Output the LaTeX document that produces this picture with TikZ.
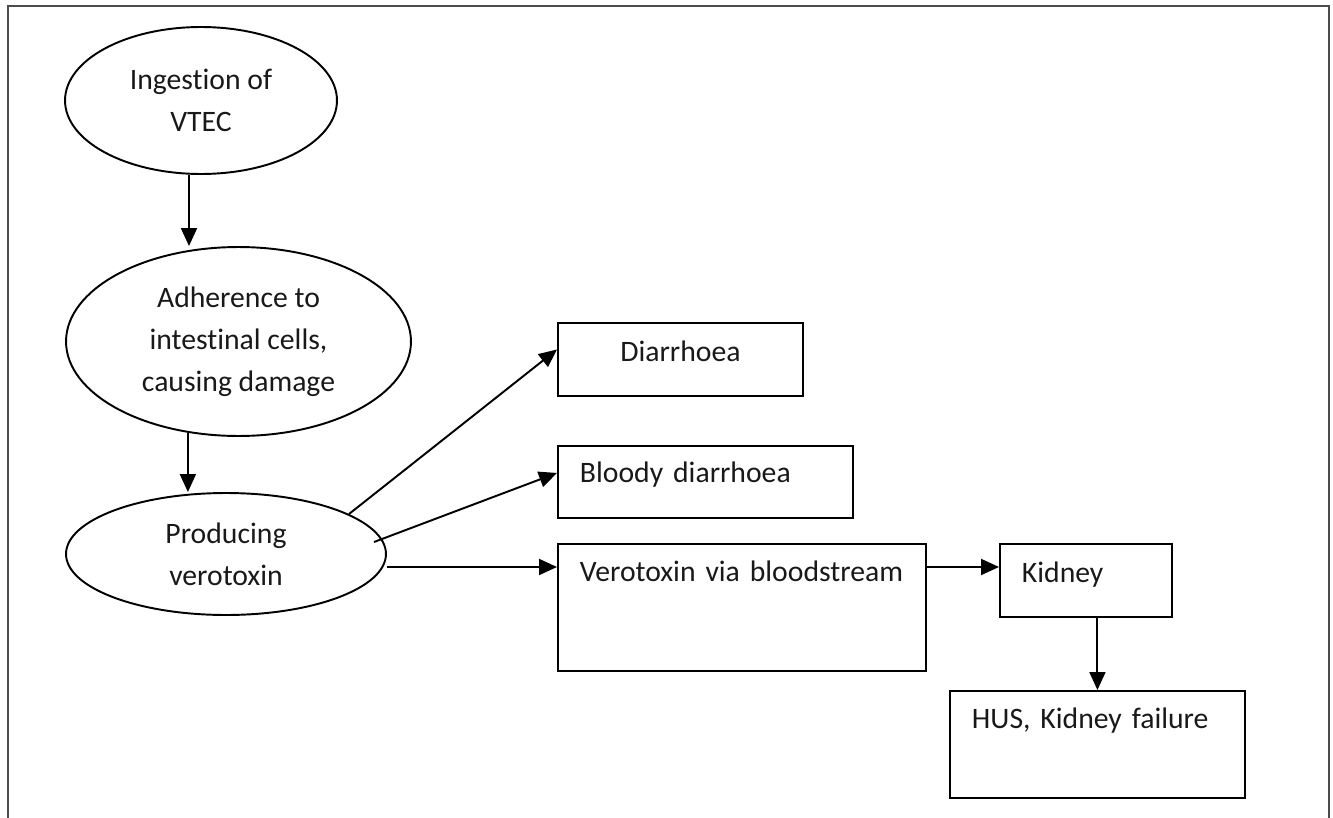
\documentclass[tikz,border=0pt]{standalone}
\usepackage{fontspec}
\setmainfont{Carlito}[Ligatures=NoCommon]
\usetikzlibrary{shapes.geometric,arrows.meta,calc}
\tikzset{
  every node/.style={font=\fontsize{16.9}{23.9}\selectfont, text=black!90},
  stage/.style={draw, ellipse, line width=1.1pt, inner sep=0pt, align=center},
  outcome/.style={draw, rectangle, line width=1.1pt, anchor=north west,
    inner ysep=0pt, inner xsep=0.44cm, align=left},
  arr/.style={-{Triangle[length=0.36cm,width=0.32cm]}, line width=1.1pt},
}

\begin{document}
\begin{tikzpicture}[x=0.02cm,y=-0.02cm]
\useasboundingbox (0,0) rectangle (1333,818);
\draw[line width=1.1pt, black!70] (8,818) -- (8,6) -- (1329,6) -- (1329,818);

\node[stage, minimum width=5.44cm, minimum height=2.94cm] (ingest) at (201,100.5) {Ingestion of\\VTEC};
\node[stage, minimum width=6.9cm, minimum height=3.78cm] (adhere) at (238.5,341.5) {Adherence to\\intestinal cells,\\causing damage};
\node[stage, minimum width=6.4cm, minimum height=2.44cm] (toxin) at (226,554) {Producing\\verotoxin};

\node[outcome, text width=4.02cm, align=center, text height=0.78cm, text depth=0.68cm] (diar) at (557,322) {Diarrhoea};
\node[outcome, text width=5.02cm, text height=0.74cm, text depth=0.70cm] (bloody) at (557,445) {Bloody diarrhoea};
\node[outcome, text width=6.48cm, text height=0.76cm, text depth=1.78cm] (vero) at (557,543) {Verotoxin via bloodstream};
\node[outcome, text width=2.56cm, text height=0.78cm, text depth=0.68cm] (kidney) at (999,543) {Kidney};
\node[outcome, text width=5.02cm, text height=0.76cm, text depth=1.38cm] (hus) at (949,690) {HUS, Kidney failure};

\coordinate (spine) at (189,0);
\coordinate (vlevel) at (0,567);
\draw[arr] (ingest.south -| spine) -- (adhere.north -| spine);
\draw[arr] (adhere.241) -- (adhere.241 |- toxin.north);
\draw[arr] (toxin.18) -- ([yshift=0.2cm]diar.west);
\draw[arr] ($(toxin.center)+(148,-12)$) -- ([yshift=0.18cm]bloody.west);
\draw[arr] (toxin.east |- vlevel) -- (vero.west |- vlevel);
\draw[arr] (vero.east |- vlevel) -- (kidney.west |- vlevel);
\draw[arr] (kidney.south -| hus.north) -- (hus.north);
\end{tikzpicture}
\end{document}
